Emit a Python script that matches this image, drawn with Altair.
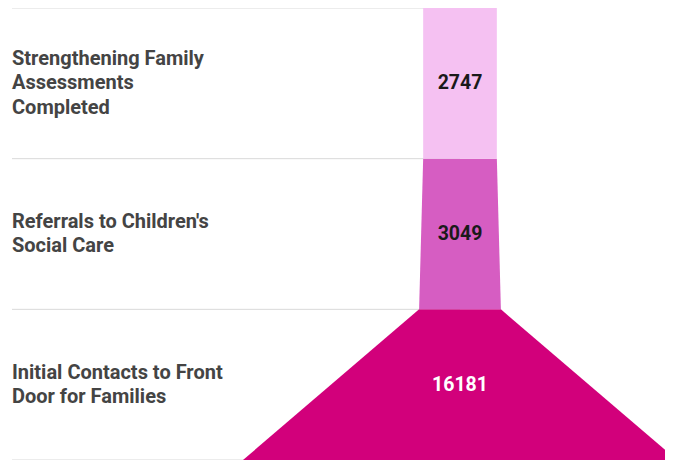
import altair as alt
import pandas as pd

# Funnel stages, bottom (widest) to top
stages = [
    "Initial Contacts to Front Door for Families",
    "Referrals to Children's Social Care",
    "Strengthening Family Assessments Completed",
]
label_lines = [
    ["Initial Contacts to Front", "Door for Families"],
    ["Referrals to Children's", "Social Care"],
    ["Strengthening Family", "Assessments", "Completed"],
]
values = [16181, 3049, 2747]
colors = ["#d2007b", "#d65dc2", "#f5c1f2"]

PLOT_W = 657
PLOT_H = 452
LINE_H = 24.3

# shape table: each stage is a trapezoid whose bottom width is its own value
# and whose top width is the value of the stage above it
rows = []
for i, v in enumerate(values):
    top = values[i + 1] if i + 1 < len(values) else v
    rows.append({"stage": stages[i], "y": i, "lo": -v, "hi": v})
    rows.append({"stage": stages[i], "y": i + 1, "lo": -top, "hi": top})
shape = pd.DataFrame(rows)

line_rows = []
for i, lines in enumerate(label_lines):
    for j, t in enumerate(lines):
        line_rows.append({"stage": stages[i], "mid": i + 0.5, "j": j, "n": len(lines), "line": t})
name_df = pd.DataFrame(line_rows)

labels = pd.DataFrame({
    "stage": stages,
    "idx": list(range(len(stages))),
    "mid": [i + 0.5 for i in range(len(stages))],
    "value": values,
    "zero": [0] * len(stages),
})
bounds = pd.DataFrame({"b": list(range(len(stages) + 1))})

xs = alt.Scale(domain=[-33704, 15286], nice=False, zero=False)
ys = alt.Scale(domain=[0, len(stages)], nice=False, zero=False)

grid = alt.Chart(bounds).mark_rule(color="#d9d9d9", strokeWidth=1).encode(
    x=alt.value(4),
    x2=alt.value(452),
    y=alt.Y("b:Q", scale=ys, axis=None),
)

funnel = alt.Chart(shape).mark_area(orient="horizontal", clip=True).encode(
    y=alt.Y("y:Q", scale=ys, axis=None),
    x=alt.X("lo:Q", scale=xs, axis=None, stack=None),
    x2="hi:Q",
    color=alt.Color("stage:N", scale=alt.Scale(domain=stages, range=colors), legend=None),
)

unit_per_px = len(stages) / PLOT_H
names = alt.Chart(name_df).transform_calculate(
    ypos=f"datum.mid - (datum.j - (datum.n - 1) / 2) * {LINE_H * unit_per_px}"
).mark_text(
    align="left", baseline="middle", font="Roboto", fontSize=20, fontWeight="bold",
    color="#444444",
).encode(
    x=alt.value(4),
    y=alt.Y("ypos:Q", scale=ys, axis=None),
    text="line:N",
)

nums = alt.Chart(labels).mark_text(
    align="center", baseline="middle", font="Roboto", fontSize=19.5, fontWeight="bold",
).encode(
    x=alt.X("zero:Q", scale=xs, axis=None),
    y=alt.Y("mid:Q", scale=ys, axis=None),
    text="value:Q",
    color=alt.condition(alt.datum.idx == 0, alt.value("#ffffff"), alt.value("#1a1a1a")),
)

chart = alt.layer(grid, funnel, names, nums).properties(
    width=PLOT_W, height=PLOT_H,
    autosize=alt.AutoSizeParams(type="none"),
    padding={"left": 0, "right": 0, "top": 0, "bottom": 0},
).configure_view(strokeWidth=0)

chart.save("out.html", embed_options={"renderer": "svg", "actions": False})
